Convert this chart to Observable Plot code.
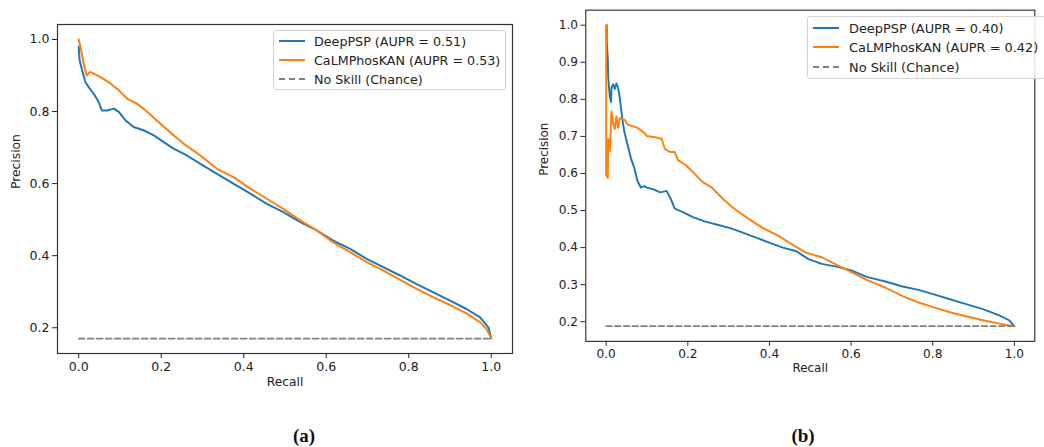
<!DOCTYPE html>
<html><head><meta charset="utf-8">
<script src="https://cdn.jsdelivr.net/npm/d3@7"></script>
<script src="https://cdn.jsdelivr.net/npm/@observablehq/plot@0.6"></script>
<style>
body{margin:0;width:1044px;height:447px;overflow:hidden;background:#fff;position:relative;font-family:"DejaVu Sans",sans-serif;}
.panel{position:absolute;top:0;}
.legend{position:absolute;border:1px solid #d4d4d4;border-radius:3px;background:rgba(255,255,255,0.85);box-sizing:border-box;color:#222;}
.row{position:absolute;white-space:nowrap;transform:translateY(-50%);}
.sw{position:absolute;width:26px;height:0;}
.lab{position:absolute;font:bold 19px "Liberation Serif","DejaVu Serif",serif;transform:translate(-50%,-50%);color:#111;}
</style></head><body>
<div id="a" class="panel" style="left:0px"></div>
<div id="b" class="panel" style="left:530px"></div>
<script>
// ---- shared labels / ticks ----
const seriesNames = ["DeepPSP", "CaLMPhosKAN"];
const seriesColors = ["#1f77b4", "#ff7f0e"];
const chanceLabel = "No Skill (Chance)";
const xTicks = [0, 0.2, 0.4, 0.6, 0.8, 1.0];
const yTicksA = [0.2, 0.4, 0.6, 0.8, 1.0];
const yTicksB = [0.2, 0.3, 0.4, 0.5, 0.6, 0.7, 0.8, 0.9, 1.0];
const panelLabels = ["(a)", "(b)"];

// ---- panel (a) ----
const auprA = [0.51, 0.53];
const chanceA = 0.17;
const recallA_deep = [0,0.002,0.008,0.016,0.024,0.036,0.048,0.056,0.069,0.085,0.097,0.113,0.133,0.157,0.182,0.206,0.23,0.262,0.295,0.335,0.375,0.416,0.456,0.496,0.537,0.577,0.617,0.658,0.698,0.738,0.779,0.819,0.86,0.9,0.94,0.973,0.993,1.0];
const precA_deep   = [0.98,0.943,0.915,0.882,0.868,0.85,0.827,0.803,0.803,0.808,0.799,0.776,0.757,0.748,0.734,0.715,0.697,0.678,0.655,0.627,0.6,0.572,0.544,0.521,0.493,0.47,0.442,0.419,0.391,0.368,0.345,0.321,0.298,0.275,0.252,0.229,0.201,0.171];
const recallA_kan = [0,0.004,0.012,0.019,0.028,0.052,0.077,0.097,0.117,0.141,0.165,0.198,0.23,0.254,0.295,0.335,0.375,0.416,0.456,0.496,0.537,0.577,0.617,0.658,0.698,0.738,0.779,0.819,0.86,0.9,0.94,0.973,0.989,1.0];
const precA_kan   = [1.0,0.98,0.933,0.90,0.91,0.896,0.878,0.859,0.836,0.822,0.80,0.766,0.734,0.711,0.678,0.641,0.618,0.586,0.558,0.53,0.498,0.47,0.437,0.41,0.382,0.359,0.333,0.308,0.284,0.263,0.24,0.215,0.196,0.171];

// ---- panel (b) ----
const auprB = [0.40, 0.42];
const chanceB = 0.188;
const recallB_deep = [0.0015,0.0015,0.004,0.005,0.009,0.012,0.013,0.017,0.021,0.025,0.029,0.033,0.037,0.041,0.045,0.053,0.061,0.069,0.077,0.085,0.093,0.1,0.116,0.132,0.148,0.16,0.168,0.188,0.211,0.243,0.275,0.306,0.338,0.369,0.401,0.433,0.464,0.496,0.528,0.567,0.599,0.638,0.686,0.726,0.765,0.805,0.844,0.884,0.923,0.963,0.987,1.0];
const precB_deep   = [1.0,0.95,0.911,0.859,0.806,0.793,0.832,0.841,0.828,0.843,0.832,0.806,0.771,0.736,0.71,0.675,0.64,0.614,0.579,0.562,0.566,0.562,0.557,0.549,0.553,0.527,0.505,0.496,0.483,0.47,0.461,0.452,0.439,0.426,0.413,0.4,0.391,0.369,0.356,0.348,0.339,0.321,0.308,0.295,0.286,0.273,0.26,0.247,0.234,0.217,0.204,0.188];
const recallB_kan = [0,0,0.004,0.005,0.009,0.013,0.017,0.021,0.025,0.029,0.033,0.045,0.053,0.077,0.093,0.1,0.124,0.136,0.144,0.156,0.168,0.176,0.195,0.215,0.235,0.259,0.29,0.314,0.354,0.385,0.417,0.449,0.488,0.528,0.567,0.599,0.638,0.686,0.726,0.765,0.805,0.844,0.884,0.923,0.963,1.0];
const precB_kan   = [1.0,0.597,0.588,0.693,0.66,0.767,0.736,0.72,0.754,0.723,0.749,0.745,0.732,0.723,0.71,0.701,0.697,0.693,0.666,0.658,0.658,0.636,0.623,0.601,0.578,0.562,0.527,0.505,0.474,0.452,0.435,0.413,0.387,0.374,0.352,0.335,0.313,0.291,0.269,0.252,0.238,0.225,0.214,0.204,0.195,0.188];

function zip(rs, ps){ return rs.map((r,i)=>({r, p: ps[i]})); }

function panel(o){
  const font = '"DejaVu Sans", sans-serif';
  return Plot.plot({
    width: o.width, height: 400,
    marginLeft: 57, marginRight: o.mr, marginTop: o.mt, marginBottom: 400 - o.fb,
    style: {fontFamily: font, fontSize: "12.5px", color: "#222", background: "transparent", overflow: "visible"},
    x: {domain: o.xd},
    y: {domain: o.yd},
    marks: [
      Plot.axisX({ticks: xTicks, tickFormat: d3.format(".1f"), tickSize: 5, tickPadding: 3.5, label: null, stroke: "#222", fontSize: 12.5}),
      Plot.axisY({ticks: o.yTicks, tickFormat: d3.format(".1f"), tickSize: 5, tickPadding: 3, label: null, stroke: "#222", fontSize: 12.5}),
      Plot.line(zip(o.deepR, o.deepP), {x: "r", y: "p", stroke: seriesColors[0], strokeWidth: 2}),
      Plot.line(zip(o.kanR, o.kanP), {x: "r", y: "p", stroke: seriesColors[1], strokeWidth: 2}),
      Plot.line(zip([0, 1], [o.chance, o.chance]), {x: "r", y: "p", stroke: "#808080", strokeWidth: 1.7, strokeDasharray: "6,3"}),
      Plot.frame({stroke: "#333", strokeWidth: 1.2}),
      Plot.text(["Recall"], {frameAnchor: "bottom", dy: 32, fontSize: 12.3, fill: "#222"}),
      Plot.text(["Precision"], {frameAnchor: "left", dx: o.pdx, rotate: -90, fontSize: 12.3, fill: "#222"})
    ]
  });
}

document.getElementById("a").append(panel({
  width: 520, mr: 8, mt: 24, fb: 353, xd: [-0.0515, 1.0515], yd: [0.1285, 1.0415], yTicks: yTicksA,
  deepR: recallA_deep, deepP: precA_deep, kanR: recallA_kan, kanP: precA_kan, chance: chanceA, pdx: -41
}));
document.getElementById("b").append(panel({
  width: 530, mr: 10, mt: 10, fb: 351.5, xd: [-0.05, 1.05], yd: [0.147, 1.0406], yTicks: yTicksB,
  deepR: recallB_deep, deepP: precB_deep, kanR: recallB_kan, kanP: precB_kan, chance: chanceB, pdx: -43
}));

function legend(o){
  const box = document.createElement("div");
  box.className = "legend";
  Object.assign(box.style, {left: o.left+"px", top: o.top+"px", width: o.w+"px", height: o.h+"px", fontSize: o.fs+"px"});
  const items = [
    {t: `${seriesNames[0]} (AUPR = ${o.aupr[0].toFixed(2)})`, c: seriesColors[0], dash: false},
    {t: `${seriesNames[1]} (AUPR = ${o.aupr[1].toFixed(2)})`, c: seriesColors[1], dash: false},
    {t: chanceLabel, c: "#808080", dash: true}
  ];
  items.forEach((it, i) => {
    const y = o.y0 + i*o.dy;
    const sw = document.createElement("div");
    sw.className = "sw";
    Object.assign(sw.style, {left: "5px", top: (y-1)+"px", borderTop: (it.dash ? "2px dashed " : "2px solid ") + it.c});
    const tx = document.createElement("div");
    tx.className = "row";
    Object.assign(tx.style, {left: o.tx+"px", top: y+"px"});
    tx.textContent = it.t;
    box.append(sw, tx);
  });
  document.body.append(box);
}
legend({left: 273, top: 30, w: 233, h: 60, fs: 12.7, y0: 10, dy: 19, tx: 40, aupr: auprA});
legend({left: 807, top: 16, w: 245, h: 63, fs: 12.9, y0: 10.5, dy: 19.7, tx: 41, aupr: auprB});

[[panelLabels[0], 304], [panelLabels[1], 803]].forEach(([t, x]) => {
  const d = document.createElement("div");
  d.className = "lab";
  d.style.left = x + "px";
  d.style.top = "436px";
  d.textContent = t;
  document.body.append(d);
});
</script>
</body></html>
